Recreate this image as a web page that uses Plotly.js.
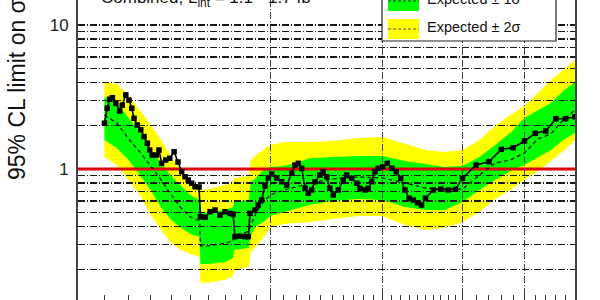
<!DOCTYPE html>
<html>
<head>
<meta charset="utf-8">
<script src="https://cdn.plot.ly/plotly-3.0.1.min.js"></script>
<style>html,body{margin:0;padding:0;background:#fff;}#chart{width:600px;height:300px;}</style>
</head>
<body>
<div id="chart"></div>
<script>
// ---- data ----
const obsMass = [110,111.1,112.1,113.2,114.6,116.2,117.3,118.8,120.2,121.4,
  122.4,123.8,125.4,126.9,128.4,129.5,130.7,132.6,133.9,135.2,
  137.2,139.2,141.4,143.4,145.3,147.1,148.8,150.7,152.5,154.7,
  155.5,158.1,161,163.9,166.9,169.9,173,174.9,176.1,179.3,
  182.6,184.8,185.9,189.3,191.5,193.9,196.2,198.6,201,204.7,
  208.4,212.2,216.1,218.6,221.3,224,226.7,229.4,232.2,235,
  239.2,242.1,245.1,248,251,255.6,260.2,263.4,268.2,273.1,
  276.3,281.4,284.7,288.3,291.7,295.2,300,305,310,315,
  320,325,330,335,340,345,350,360,370,380,
  390,400,420,440,460,480,500,520,540,560,580,600];
const obsLimit = [2.08,2.64,3.05,3.13,2.86,2.53,2.78,3.27,3.01,2.64,
  2.25,2.02,1.87,1.68,1.51,1.355,1.25,1.25,1.355,1.095,
  1.155,1.187,1.318,1.118,0.958,0.884,0.839,0.796,0.754,0.750,
  0.466,0.462,0.505,0.519,0.479,0.505,0.492,0.485,0.339,0.342,
  0.339,0.339,0.492,0.519,0.562,0.609,0.762,0.866,0.923,0.866,
  0.816,0.774,0.934,1.066,1.095,1.011,0.734,0.678,0.715,0.816,
  0.908,0.958,0.884,0.734,0.660,0.715,0.839,0.908,0.862,0.796,
  0.734,0.715,0.734,0.816,0.958,1.011,1.037,1.095,1.011,0.958,
  0.862,0.715,0.626,0.609,0.583,0.562,0.626,0.715,0.726,0.715,
  0.723,0.862,1.066,1.124,1.37,1.406,1.565,1.77,1.836,2.236,2.236,2.308];

const bandMass = [110,115,120,125,130,135,140,145,150,155,
  155.5,160,170,175,175.5,185,186.5,190,195,200,
  210,220,230,250,275,300,325,350,375,400,
  425,450,475,500,525,550,575,600];
const expMedian = [2.37,2.09,1.62,1.31,1.049,0.839,0.660,0.536,0.464,0.436,
  0.292,0.292,0.306,0.316,0.332,0.371,0.409,0.495,0.590,0.660,
  0.715,0.750,0.80,0.852,0.880,0.866,0.80,0.738,0.726,0.726,
  0.908,1.10,1.155,1.29,1.62,1.75,2.19,2.57];
const exp1sHi = [3.16,2.92,2.26,1.81,1.355,1.10,0.894,0.762,0.660,0.609,
  0.495,0.503,0.519,0.545,0.590,0.609,0.812,0.866,0.984,1.033,
  1.049,1.10,1.19,1.21,1.23,1.23,1.137,1.083,1.033,1.049,
  1.21,1.47,1.78,2.26,2.57,2.87,3.48,4.02];
const exp1sLo = [1.59,1.40,1.155,0.908,0.715,0.536,0.442,0.389,0.354,0.337,
  0.219,0.219,0.226,0.241,0.274,0.283,0.35,0.402,0.428,0.472,
  0.503,0.536,0.562,0.60,0.619,0.609,0.545,0.519,0.519,0.590,
  0.715,0.839,0.968,1.066,1.21,1.355,1.59,1.78];
const exp2sHi = [4.02,3.89,3.27,2.57,2.02,1.59,1.21,0.984,0.812,0.715,
  0.715,0.726,0.774,0.812,0.866,0.894,1.155,1.25,1.355,1.47,
  1.54,1.54,1.54,1.565,1.64,1.67,1.49,1.355,1.31,1.355,
  1.59,1.99,2.37,2.74,3.37,4.15,4.87,5.71];
const exp2sLo = [1.21,1.066,0.839,0.660,0.479,0.377,0.306,0.274,0.257,0.245,
  0.162,0.162,0.170,0.181,0.199,0.209,0.265,0.292,0.332,0.396,
  0.415,0.422,0.428,0.45,0.472,0.472,0.409,0.377,0.389,0.428,
  0.503,0.619,0.715,0.839,0.968,1.137,1.33,1.59];

const massRange = [100, 600];
const limitRange = [0.1231, 14.92];
const smLine = 1;
const xGridVals = [200, 300, 400, 500];
const xMinorVals = [110,120,130,140,150,160,170,180,190,
  210,220,230,240,250,260,270,280,290,
  310,320,330,340,350,360,370,380,390,
  420,440,460,480,520,540,560,580];
const yTickVals = [0.2,0.3,0.4,0.5,0.6,0.7,0.8,0.9,1,2,3,4,5,6,7,8,9,10];
const yTickText = ['','','','','','','','','1','','','','','','','','','10'];
const titleText = 'Combined, L<sub>int</sub> = 1.1 - 1.7 fb<sup>-1</sup>';
const yTitleText = '95% CL limit on σ/σ<sub>SM</sub>';
const legendLabels = ['Expected ± 1σ', 'Expected ± 2σ'];

// ---- styles ----
const YELLOW = '#ffff00', GREEN = '#00ff00';
const FONT = 'Liberation Sans, Arial, sans-serif';
const GRID = {showgrid:true, gridcolor:'#1a1a1a', gridwidth:1.2, griddash:'7px,2px,1px,2px'};
const lg = v => Math.log10(v);

const traces = [
  {x: bandMass, y: exp2sLo, xaxis:'x', yaxis:'y', mode:'lines', line:{width:0, color:YELLOW}, hoverinfo:'skip', showlegend:false},
  {x: bandMass, y: exp2sHi, xaxis:'x', yaxis:'y', mode:'lines', line:{width:0, color:YELLOW}, fill:'tonexty', fillcolor:YELLOW, showlegend:false},
  {x: bandMass, y: exp1sLo, xaxis:'x', yaxis:'y', mode:'lines', line:{width:0, color:GREEN}, showlegend:false},
  {x: bandMass, y: exp1sHi, xaxis:'x', yaxis:'y', mode:'lines', line:{width:0, color:GREEN}, fill:'tonexty', fillcolor:GREEN, showlegend:false},
  {x: massRange, y: [smLine, smLine], xaxis:'x2', yaxis:'y2', mode:'lines', line:{color:'#e00000', width:2.8}, showlegend:false},
  {x: bandMass, y: expMedian, xaxis:'x2', yaxis:'y2', mode:'lines', line:{color:'#000', width:1.2, dash:'4px,3px'}, showlegend:false},
  {x: obsMass, y: obsLimit, xaxis:'x2', yaxis:'y2', mode:'lines+markers', line:{color:'#000', width:1.6},
   marker:{symbol:'square', size:5.5, color:'#000'}, showlegend:false}
];

const px2x = px => (px - 78) / 497;
const py2y = py => (300 - py) / 300;

const layout = {
  width: 600, height: 300,
  margin: {l:78, r:25, t:0, b:0},
  paper_bgcolor: '#fff', plot_bgcolor: 'rgba(0,0,0,0)',
  font: {family: FONT, color:'#111'},
  showlegend: false,
  xaxis: {type:'log', range: massRange.map(lg), visible:false, domain:[0,1]},
  yaxis: {type:'log', range: limitRange.map(lg), visible:false, domain:[0,1]},
  xaxis2: Object.assign({type:'log', range: massRange.map(lg), anchor:'y2', domain:[0,1],
    tickmode:'array', tickvals: xGridVals, showticklabels:false, ticks:'inside', ticklen:7, tickcolor:'#333',
    showline:false, zeroline:false,
    minor:{tickmode:'array', tickvals: xMinorVals, ticks:'inside', ticklen:5, tickcolor:'#333', showgrid:false}}, GRID, {gridcolor:'#444', gridwidth:1}),
  yaxis2: Object.assign({type:'log', range: limitRange.map(lg), anchor:'x2', domain:[0,1],
    tickmode:'array', tickvals: yTickVals, ticktext: yTickText, ticks:'',
    tickfont:{size:17, color:'#222'}, ticklabelstandoff:4,
    showline:true, mirror:true, linecolor:'#444', linewidth:2, zeroline:false}, GRID),
  shapes: [
    // legend box (cut by top edge)
    {type:'rect', xref:'paper', yref:'paper', x0:px2x(382), x1:px2x(556), y0:py2y(41), y1:py2y(-60), fillcolor:'#fff', line:{color:'#222', width:1.2}, layer:'above'},
    {type:'rect', xref:'paper', yref:'paper', x0:px2x(388), x1:px2x(419), y0:py2y(11), y1:py2y(-9), fillcolor:GREEN, line:{width:0}, layer:'above'},
    {type:'line', xref:'paper', yref:'paper', x0:px2x(388), x1:px2x(419), y0:py2y(1), y1:py2y(1), line:{color:'#333', width:1, dash:'3px,2px'}, layer:'above'},
    {type:'rect', xref:'paper', yref:'paper', x0:px2x(388), x1:px2x(419), y0:py2y(39), y1:py2y(19), fillcolor:YELLOW, line:{width:0}, layer:'above'},
    {type:'line', xref:'paper', yref:'paper', x0:px2x(388), x1:px2x(419), y0:py2y(29), y1:py2y(29), line:{color:'#555', width:1, dash:'3px,2px'}, layer:'above'}
  ],
  annotations: [
    {text: yTitleText, textangle:-90, xref:'paper', yref:'paper', x:px2x(18), y:py2y(182), xanchor:'center', yanchor:'bottom',
     showarrow:false, font:{size:23, color:'#111'}},
    {text: titleText, xref:'paper', yref:'paper', x:px2x(99), y:py2y(12), xanchor:'left', yanchor:'bottom',
     showarrow:false, font:{size:17, color:'#111'}},
    {text: legendLabels[0], xref:'paper', yref:'paper', x:px2x(425), y:py2y(-1), xanchor:'left', yanchor:'middle',
     showarrow:false, font:{size:14.5, color:'#111'}},
    {text: legendLabels[1], xref:'paper', yref:'paper', x:px2x(425), y:py2y(27), xanchor:'left', yanchor:'middle',
     showarrow:false, font:{size:14.5, color:'#111'}}
  ]
};

Plotly.newPlot('chart', traces, layout, {staticPlot:true, displayModeBar:false});
</script>
</body>
</html>
